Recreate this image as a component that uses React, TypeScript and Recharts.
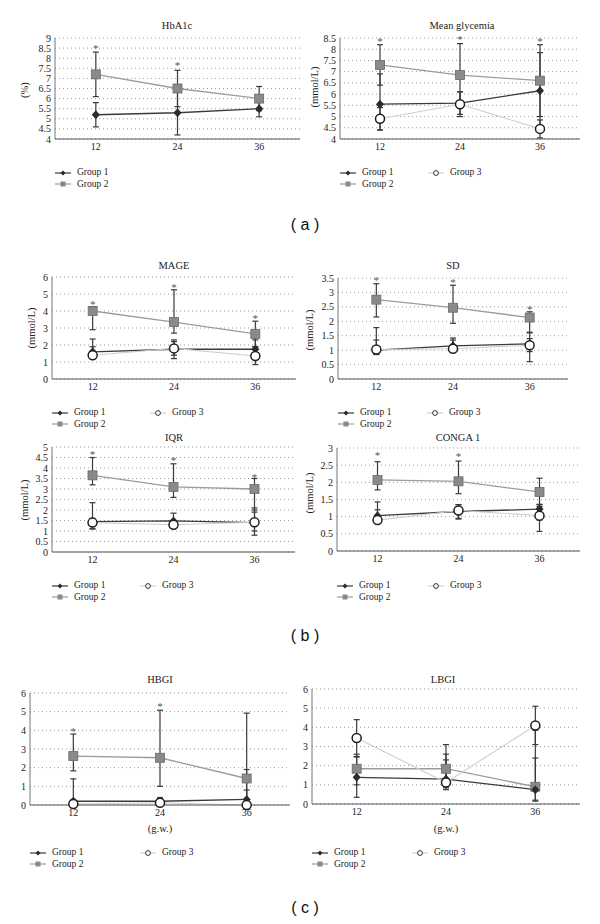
import React from "react";
import { LineChart, Line, XAxis, YAxis, CartesianGrid, ErrorBar } from "recharts";

const serif = "'Liberation Serif', 'DejaVu Serif', serif";

const weeks = ["12", "24", "36"];

// mean and [low, high] whisker ends per gestational week
const hba1c = {
  g1: { mean: [5.2, 5.3, 5.5], bars: [[4.6, 5.8], [4.2, 6.4], [5.1, 5.9]] },
  g2: { mean: [7.2, 6.5, 6.0], bars: [[6.1, 8.3], [5.6, 7.4], [5.4, 6.6]] },
  stars: [8.55, 7.7, null],
};

const meanGly = {
  g1: { mean: [5.55, 5.6, 6.15], bars: [[4.4, 6.9], [5.1, 6.1], [4.45, 7.85]] },
  g2: { mean: [7.3, 6.85, 6.6], bars: [[6.4, 8.2], [5.45, 8.25], [5.0, 8.2]] },
  g3: { mean: [4.9, 5.55, 4.45], bars: [[4.4, 5.4], [5.0, 6.1], [4.05, 4.85]] },
  stars: [8.42, 8.5, 8.42],
};

const mage = {
  g1: { mean: [1.6, 1.75, 1.75], bars: [[1.3, 2.35], [1.2, 2.3], [1.2, 2.3]] },
  g2: { mean: [4.0, 3.35, 2.65], bars: [[2.9, 4.25], [2.7, 5.25], [1.9, 3.4]] },
  g3: { mean: [1.4, 1.8, 1.35], bars: [[1.2, 1.9], [1.4, 2.2], [0.85, 1.9]] },
  stars: [4.47, 5.5, 3.62],
};

const sd = {
  g1: { mean: [1.0, 1.15, 1.22], bars: [[0.85, 1.35], [1.0, 1.42], [0.6, 1.62]] },
  g2: { mean: [2.75, 2.47, 2.13], bars: [[2.15, 3.3], [1.93, 3.25], [1.6, 2.33]] },
  g3: { mean: [1.02, 1.05, 1.17], bars: [[0.85, 1.78], [0.98, 1.35], [0.95, 1.4]] },
  stars: [3.46, 3.4, 2.47],
};

const iqr = {
  g1: { mean: [1.45, 1.48, 1.4], bars: [[1.1, 2.35], [1.15, 1.85], [0.8, 2.1]] },
  g2: { mean: [3.65, 3.1, 3.0], bars: [[3.2, 4.5], [2.6, 4.2], [2.0, 3.5]] },
  g3: { mean: [1.4, 1.3, 1.42], bars: [[1.1, 1.6], [1.15, 1.5], [1.0, 1.9]] },
  stars: [4.73, 4.43, 3.63],
};

const conga = {
  g1: { mean: [1.03, 1.15, 1.22], bars: [[0.85, 1.43], [0.93, 1.35], [0.9, 1.36]] },
  g2: { mean: [2.07, 2.03, 1.72], bars: [[1.78, 2.6], [1.67, 2.62], [1.35, 2.12]] },
  g3: { mean: [0.9, 1.18, 1.03], bars: [[0.8, 1.2], [0.95, 1.35], [0.57, 1.3]] },
  stars: [2.83, 2.8, null],
};

const hbgi = {
  g1: { mean: [0.2, 0.2, 0.3], bars: [[0, 1.4], [0, 0.4], [0, 1.9]] },
  g2: { mean: [2.62, 2.53, 1.42], bars: [[1.83, 3.8], [1.0, 5.08], [0, 4.92]] },
  g3: { mean: [0.05, 0.12, 0.0], bars: [[0, 0.3], [0, 0.38], [0, 0.8]] },
  stars: [4.02, 5.37, null],
};

const lbgi = {
  g1: { mean: [1.39, 1.3, 0.75], bars: [[0.35, 2.45], [0.75, 2.6], [0.2, 2.4]] },
  g2: { mean: [1.84, 1.84, 0.9], bars: [[1.0, 2.6], [1.0, 3.1], [0.15, 3.85]] },
  g3: { mean: [3.44, 1.12, 4.1], bars: [[2.48, 4.4], [0.85, 2.3], [3.1, 5.1]] },
  stars: [null, null, null],
};

const ticksHba1c = [4, 4.5, 5, 5.5, 6, 6.5, 7, 7.5, 8, 8.5, 9];
const ticksGly = [4, 4.5, 5, 5.5, 6, 6.5, 7, 7.5, 8, 8.5];
const ticks6 = [0, 1, 2, 3, 4, 5, 6];
const ticks35 = [0, 0.5, 1, 1.5, 2, 2.5, 3, 3.5];
const ticks5 = [0, 0.5, 1, 1.5, 2, 2.5, 3, 3.5, 4, 4.5, 5];
const ticks3 = [0, 0.5, 1, 1.5, 2, 2.5, 3];

const panels = [
  { title: "HbA1c", set: hba1c, ticks: ticksHba1c, ylabel: "(%)", left: 55, right: 300, top: 38, bottom: 139, tx: 177, ty: 26, lx: 25, ly: 90, legX: 55, legY: 167, col2: 0 },
  { title: "Mean glycemia", set: meanGly, ticks: ticksGly, ylabel: "(mmol/L)", left: 340, right: 580, top: 38, bottom: 139, tx: 462, ty: 26, lx: 315, ly: 87, legX: 340, legY: 167, col2: 428 },
  { title: "MAGE", set: mage, ticks: ticks6, ylabel: "(mmol/L)", left: 52, right: 296, top: 277, bottom: 379, tx: 174, ty: 266, lx: 32, ly: 328, legX: 52, legY: 407, col2: 150 },
  { title: "SD", set: sd, ticks: ticks35, ylabel: "(mmol/L)", left: 338, right: 568, top: 278, bottom: 379, tx: 453, ty: 266, lx: 310, ly: 330, legX: 338, legY: 407, col2: 427 },
  { title: "IQR", set: iqr, ticks: ticks5, ylabel: "(mmol/L)", left: 52, right: 295, top: 447, bottom: 552, tx: 174, ty: 438, lx: 25, ly: 500, legX: 52, legY: 580, col2: 140 },
  { title: "CONGA 1", set: conga, ticks: ticks3, ylabel: "(mmol/L)", left: 337, right: 580, top: 448, bottom: 551, tx: 458, ty: 438, lx: 310, ly: 493, legX: 337, legY: 580, col2: 428 },
  { title: "HBGI", set: hbgi, ticks: ticks6, xlabel: "(g.w.)", left: 30, right: 290, top: 693, bottom: 805, tx: 160, ty: 680, legX: 30, legY: 847, col2: 140 },
  { title: "LBGI", set: lbgi, ticks: ticks6, xlabel: "(g.w.)", left: 312, right: 580, top: 689, bottom: 804, tx: 443, ty: 680, legX: 312, legY: 847, col2: 412 },
];

const panelLabels = [
  { text: "( a )", y: 225 },
  { text: "( b )", y: 636 },
  { text: "( c )", y: 908 },
];

const styles: any = {
  g1: { line: "#3a3a3a", width: 1.3 },
  g2: { line: "#9c9c9c", width: 1.3 },
  g3: { line: "#cfcfcf", width: 1.1 },
};

const Diamond = (p: any) => {
  const { cx, cy, value, index } = p;
  if (cx == null || cy == null || value == null) return <g key={`d${index}`} />;
  return <path key={`d${index}`} d={`M${cx},${cy - 4.5}L${cx + 4},${cy}L${cx},${cy + 4.5}L${cx - 4},${cy}Z`} fill="#2b2b2b" />;
};

const Square = (p: any) => {
  const { cx, cy, value, index } = p;
  if (cx == null || cy == null || value == null) return <g key={`s${index}`} />;
  return <rect key={`s${index}`} x={cx - 4.5} y={cy - 4.5} width={9} height={9} fill="#8a8a8a" stroke="#6a6a6a" strokeWidth={0.8} />;
};

const Ring = (p: any) => {
  const { cx, cy, value, index } = p;
  if (cx == null || cy == null || value == null) return <g key={`c${index}`} />;
  return <circle key={`c${index}`} cx={cx} cy={cy} r={4.5} fill="#fff" stroke="#1e1e1e" strokeWidth={1.5} />;
};

const Star = (p: any) => {
  const { cx, cy, value, index } = p;
  if (cx == null || cy == null || value == null) return <g key={`t${index}`} />;
  return (
    <text key={`t${index}`} x={cx} y={cy + 5} textAnchor="middle" fontSize={11} fill="#555" fontFamily={serif}>
      *
    </text>
  );
};

const dots: any = { g1: Diamond, g2: Square, g3: Ring };

function buildRows(set: any) {
  return weeks.map((week, i) => {
    const row: any = { week, star: set.stars[i] };
    ["g1", "g2", "g3"].forEach((g) => {
      if (!set[g]) return;
      const m = set[g].mean[i];
      const [lo, hi] = set[g].bars[i];
      row[g] = m;
      row[g + "Err"] = [m - lo, hi - m];
    });
    return row;
  });
}

function LegendMark({ g }: { g: string }) {
  return (
    <svg width={16} height={8} style={{ display: "block" }}>
      <line x1={0} y1={4} x2={16} y2={4} stroke={styles[g].line} strokeWidth={1.2} />
      {g === "g1" && <path d="M8,1.5L10.5,4L8,6.5L5.5,4Z" fill="#2b2b2b" />}
      {g === "g2" && <rect x={5.5} y={1.5} width={5} height={5} fill="#8a8a8a" />}
      {g === "g3" && <circle cx={8} cy={4} r={2.4} fill="#fff" stroke="#333" strokeWidth={1} />}
    </svg>
  );
}

function Legend({ p }: { p: any }) {
  const entries = [
    { g: "g1", label: "Group 1", x: p.legX, y: p.legY },
    { g: "g2", label: "Group 2", x: p.legX, y: p.legY + 11.5 },
  ];
  if (p.set.g3) entries.push({ g: "g3", label: "Group 3", x: p.col2, y: p.legY });
  return (
    <>
      {entries.map((e) => (
        <div
          key={e.g}
          style={{ position: "absolute", left: e.x, top: e.y, display: "flex", alignItems: "center", gap: 6, fontSize: 9.5, lineHeight: "11px", fontFamily: serif, color: "#222", whiteSpace: "nowrap" }}
        >
          <LegendMark g={e.g} />
          <span>{e.label}</span>
        </div>
      ))}
    </>
  );
}

const YW = 36;

function Panel({ p }: { p: any }) {
  const rows = buildRows(p.set);
  const plotW = p.right - p.left;
  const pad = plotW / 6;
  const w = plotW + YW + 4;
  const h = p.bottom - p.top + 8 + 22;
  const groups = ["g2", "g1", "g3"].filter((g) => p.set[g]);
  const tick = { fontSize: 10, fill: "#222", fontFamily: serif };
  return (
    <>
      <div style={{ position: "absolute", left: p.left - YW, top: p.top - 8 }}>
        <LineChart width={w} height={h} data={rows} margin={{ top: 8, right: 4, bottom: 4, left: 0 }}>
          <CartesianGrid vertical={false} stroke="#9a9a9a" strokeDasharray="1 3" />
          <XAxis
            dataKey="week"
            padding={{ left: pad, right: pad }}
            tickLine={false}
            axisLine={{ stroke: "#555", strokeWidth: 1.2 }}
            tick={tick}
            tickSize={0}
            tickMargin={4}
            height={18}
            interval={0}
          />
          <YAxis
            domain={[p.ticks[0], p.ticks[p.ticks.length - 1]]}
            ticks={p.ticks}
            interval={0}
            width={YW}
            tickLine={false}
            tickSize={0}
            tickMargin={4}
            axisLine={{ stroke: "#777", strokeWidth: 1 }}
            tick={tick}
          />
          {groups.map((g) => (
            <Line
              key={g}
              dataKey={g}
              stroke={styles[g].line}
              strokeWidth={styles[g].width}
              dot={dots[g]}
              activeDot={false}
              isAnimationActive={false}
            >
              <ErrorBar dataKey={g + "Err"} width={3} stroke="#3a3a3a" strokeWidth={1.2} direction="y" />
            </Line>
          ))}
          <Line dataKey="star" stroke="none" dot={Star} activeDot={false} isAnimationActive={false} legendType="none" />
        </LineChart>
      </div>
      <div style={{ position: "absolute", left: p.tx - 60, top: p.ty - 7, width: 120, textAlign: "center", fontSize: 10.5, lineHeight: "14px", fontFamily: serif, color: "#222" }}>
        {p.title}
      </div>
      {p.ylabel && (
        <div style={{ position: "absolute", left: p.lx - 40, top: p.ly - 7, width: 80, textAlign: "center", fontSize: 10.5, lineHeight: "14px", fontFamily: serif, color: "#222", transform: "rotate(-90deg)" }}>
          {p.ylabel}
        </div>
      )}
      {p.xlabel && (
        <div style={{ position: "absolute", left: (p.left + p.right) / 2 - 40, top: 822, width: 80, textAlign: "center", fontSize: 10.5, lineHeight: "14px", fontFamily: serif, color: "#222" }}>
          {p.xlabel}
        </div>
      )}
      <Legend p={p} />
    </>
  );
}

export default function App() {
  return (
    <div style={{ position: "absolute", left: 0, top: 0, width: 600, height: 924, background: "#fff", overflow: "hidden" }}>
      {panels.map((p) => (
        <Panel key={p.title} p={p} />
      ))}
      {panelLabels.map((l) => (
        <div key={l.text} style={{ position: "absolute", left: 255, top: l.y - 10, width: 100, textAlign: "center", fontSize: 16, lineHeight: "20px", fontFamily: "'Liberation Sans', 'DejaVu Sans', sans-serif", color: "#111" }}>
          {l.text}
        </div>
      ))}
    </div>
  );
}
